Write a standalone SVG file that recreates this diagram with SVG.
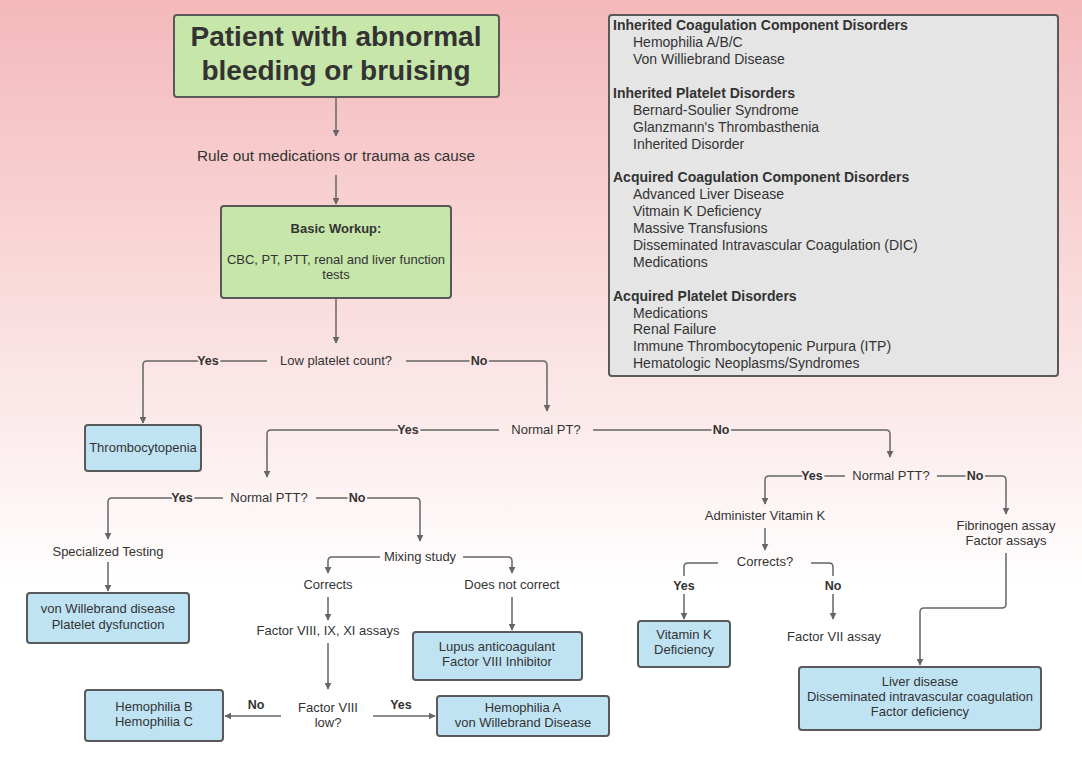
<svg xmlns="http://www.w3.org/2000/svg" width="1082" height="784" viewBox="0 0 1082 784">
<defs>
<linearGradient id="bg" gradientUnits="userSpaceOnUse" x1="0" y1="0" x2="0" y2="784">
<stop offset="0" stop-color="#f4b8ba"/>
<stop offset="0.75" stop-color="#ffffff"/>
<stop offset="1" stop-color="#ffffff"/>
</linearGradient>
<marker id="ah" viewBox="0 0 10 10" refX="9" refY="5" markerWidth="7" markerHeight="7" markerUnits="userSpaceOnUse" orient="auto">
<path d="M0,0 L10,5 L0,10 z" fill="#666"/>
</marker>
<style>
text{font-family:"Liberation Sans",Arial,sans-serif;fill:#333;}
.t{font-size:13px;text-anchor:middle;}
.b{font-weight:bold;}
.lbl{font-size:12.5px;font-weight:bold;text-anchor:middle;stroke:url(#bg);stroke-width:4;paint-order:stroke;}
.g{fill:#c7e6aa;stroke:#595959;stroke-width:2;}
.bl{fill:#c0e3f4;stroke:#595959;stroke-width:2;}
.c{fill:none;stroke:#666;stroke-width:1.5;}
.leg{font-size:14px;}
</style>
</defs>
<rect width="1082" height="784" fill="url(#bg)"/>

<g id="connectors">
<path class="c" d="M336,97 V136" marker-end="url(#ah)"/>
<path class="c" d="M336,175 V204" marker-end="url(#ah)"/>
<path class="c" d="M336,298 V343" marker-end="url(#ah)"/>
<path class="c" d="M267,361 H147 Q143,361 143,365 V423" marker-end="url(#ah)"/>
<path class="c" d="M406,361 H543 Q547,361 547,365 V411" marker-end="url(#ah)"/>
<path class="c" d="M499,430 H271 Q267,430 267,434 V477" marker-end="url(#ah)"/>
<path class="c" d="M593,430 H886 Q890,430 890,434 V457" marker-end="url(#ah)"/>
<path class="c" d="M223,498 H112 Q108,498 108,502 V539" marker-end="url(#ah)"/>
<path class="c" d="M316,498 H416 Q420,498 420,502 V541" marker-end="url(#ah)"/>
<path class="c" d="M108,562 V591" marker-end="url(#ah)"/>
<path class="c" d="M380,557 H332 Q328,557 328,561 V573" marker-end="url(#ah)"/>
<path class="c" d="M463,557 H508 Q512,557 512,561 V573" marker-end="url(#ah)"/>
<path class="c" d="M328,597 V620" marker-end="url(#ah)"/>
<path class="c" d="M512,597 V630" marker-end="url(#ah)"/>
<path class="c" d="M328,643 V689" marker-end="url(#ah)"/>
<path class="c" d="M281,716 H225" marker-end="url(#ah)"/>
<path class="c" d="M373,716 H435" marker-end="url(#ah)"/>
<path class="c" d="M845,476 H769 Q765,476 765,480 V504" marker-end="url(#ah)"/>
<path class="c" d="M937,476 H1002 Q1006,476 1006,480 V514" marker-end="url(#ah)"/>
<path class="c" d="M765,528 V550" marker-end="url(#ah)"/>
<path class="c" d="M718,563 H688 Q684,563 684,567 V576"/>
<path class="c" d="M684,594 V619" marker-end="url(#ah)"/>
<path class="c" d="M811,563 H829 Q833,563 833,567 V576"/>
<path class="c" d="M833,594 V619" marker-end="url(#ah)"/>
<path class="c" d="M1006,553 V604 Q1006,608 1002,608 H924 Q920,608 920,612 V665" marker-end="url(#ah)"/>
<text class="lbl" x="208" y="365">Yes</text>
<text class="lbl" x="479" y="365">No</text>
<text class="lbl" x="408" y="434">Yes</text>
<text class="lbl" x="721" y="434">No</text>
<text class="lbl" x="182" y="502">Yes</text>
<text class="lbl" x="357" y="502">No</text>
<text class="lbl" x="812" y="480">Yes</text>
<text class="lbl" x="975" y="480">No</text>
<text class="lbl" x="684" y="590">Yes</text>
<text class="lbl" x="833" y="590">No</text>
<text class="lbl" x="256" y="709">No</text>
<text class="lbl" x="401" y="709">Yes</text>
</g>

<g id="start">
<rect class="g" x="174" y="15" width="325" height="82" rx="3"/>
<text x="336" y="46" font-size="28" font-weight="bold" text-anchor="middle">Patient with abnormal</text>
<text x="336" y="80" font-size="28" font-weight="bold" text-anchor="middle">bleeding or bruising</text>
</g>

<g id="ruleout"><text x="336" y="161" font-size="15.3" text-anchor="middle">Rule out medications or trauma as cause</text></g>

<g id="workup">
<rect class="g" x="221" y="206" width="230" height="92" rx="3"/>
<text class="t b" x="336" y="233" font-size="12">Basic Workup:</text>
<text class="t" x="336" y="264">CBC, PT, PTT, renal and liver function</text>
<text class="t" x="336" y="279">tests</text>
</g>

<g id="lowplt"><text class="t" x="336" y="365">Low platelet count?</text></g>
<g id="thrombo">
<rect class="bl" x="85" y="425" width="116" height="46" rx="3"/>
<text class="t" x="143" y="452">Thrombocytopenia</text>
</g>
<g id="normalpt"><text class="t" x="546" y="434">Normal PT?</text></g>
<g id="normalptt1"><text class="t" x="269" y="502">Normal PTT?</text></g>
<g id="special"><text class="t" x="108" y="556">Specialized Testing</text></g>
<g id="vwd">
<rect class="bl" x="27" y="593" width="162" height="50" rx="3"/>
<text class="t" x="108" y="613">von Willebrand disease</text>
<text class="t" x="108" y="629">Platelet dysfunction</text>
</g>
<g id="mixing"><text class="t" x="420" y="561">Mixing study</text></g>
<g id="corrects"><text class="t" x="328" y="589">Corrects</text></g>
<g id="notcorrect"><text class="t" x="512" y="589">Does not correct</text></g>
<g id="factorassays"><text class="t" x="328" y="635">Factor VIII, IX, XI assays</text></g>
<g id="lupus">
<rect class="bl" x="413" y="632" width="169" height="48" rx="3"/>
<text class="t" x="497" y="651">Lupus anticoagulant</text>
<text class="t" x="497" y="666">Factor VIII Inhibitor</text>
</g>
<g id="f8low">
<text class="t" x="328" y="712">Factor VIII</text>
<text class="t" x="328" y="727">low?</text>
</g>
<g id="hemoBC">
<rect class="bl" x="85" y="690" width="138" height="51" rx="3"/>
<text class="t" x="154" y="711">Hemophilia B</text>
<text class="t" x="154" y="726">Hemophilia C</text>
</g>
<g id="hemoA">
<rect class="bl" x="437" y="696" width="172" height="40" rx="3"/>
<text class="t" x="523" y="712">Hemophilia A</text>
<text class="t" x="523" y="727">von Willebrand Disease</text>
</g>
<g id="normalptt2"><text class="t" x="891" y="480">Normal PTT?</text></g>
<g id="vitk"><text class="t" x="765" y="520">Administer Vitamin K</text></g>
<g id="corrects2"><text class="t" x="765" y="566">Corrects?</text></g>
<g id="vitkdef">
<rect class="bl" x="638" y="621" width="92" height="46" rx="3"/>
<text class="t" x="684" y="639">Vitamin K</text>
<text class="t" x="684" y="654">Deficiency</text>
</g>
<g id="f7"><text class="t" x="834" y="641">Factor VII assay</text></g>
<g id="fib">
<text class="t" x="1006" y="530">Fibrinogen assay</text>
<text class="t" x="1006" y="545">Factor assays</text>
</g>
<g id="liver">
<rect class="bl" x="799" y="667" width="242" height="63" rx="3"/>
<text class="t" x="920" y="686">Liver disease</text>
<text class="t" x="920" y="701">Disseminated intravascular coagulation</text>
<text class="t" x="920" y="716">Factor deficiency</text>
</g>

<g id="legend">
<rect x="609" y="15" width="449" height="361" rx="3" fill="#e5e5e5" stroke="#595959" stroke-width="2"/>
<text class="leg b" x="613" y="30">Inherited Coagulation Component Disorders</text>
<text class="leg" x="633" y="47">Hemophilia A/B/C</text>
<text class="leg" x="633" y="64">Von Williebrand Disease</text>
<text class="leg b" x="613" y="98">Inherited Platelet Disorders</text>
<text class="leg" x="633" y="115">Bernard-Soulier Syndrome</text>
<text class="leg" x="633" y="132">Glanzmann's Thrombasthenia</text>
<text class="leg" x="633" y="149">Inherited Disorder</text>
<text class="leg b" x="613" y="182">Acquired Coagulation Component Disorders</text>
<text class="leg" x="633" y="199">Advanced Liver Disease</text>
<text class="leg" x="633" y="216">Vitmain K Deficiency</text>
<text class="leg" x="633" y="233">Massive Transfusions</text>
<text class="leg" x="633" y="250">Disseminated Intravascular Coagulation (DIC)</text>
<text class="leg" x="633" y="267">Medications</text>
<text class="leg b" x="613" y="301">Acquired Platelet Disorders</text>
<text class="leg" x="633" y="318">Medications</text>
<text class="leg" x="633" y="334">Renal Failure</text>
<text class="leg" x="633" y="351">Immune Thrombocytopenic Purpura (ITP)</text>
<text class="leg" x="633" y="368">Hematologic Neoplasms/Syndromes</text>
</g>
</svg>
